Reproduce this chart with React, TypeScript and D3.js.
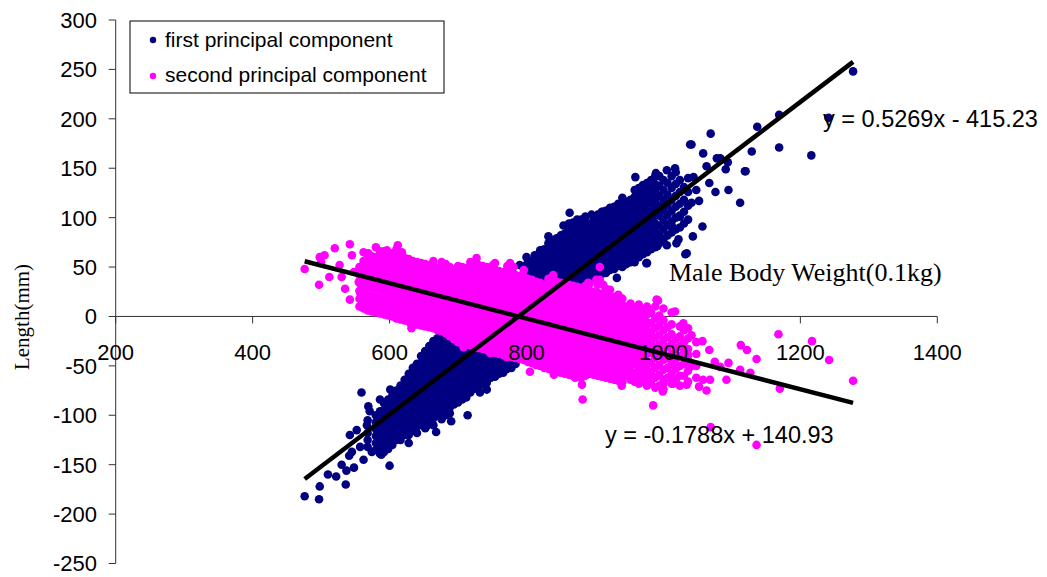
import React from 'react';
import * as d3 from 'd3';

const width = 1047;
const height = 577;

const xTicks = [200, 400, 600, 800, 1000, 1200, 1400];
const yTicks = [300, 250, 200, 150, 100, 50, 0, -50, -100, -150, -200, -250];

// trend lines as printed on the chart
const firstTrend = [0.5269, -415.23];
const secondTrend = [-0.1788, 140.93];

// first principal component: scattered points
const firstOutliers: [number, number][] = [
  [476, -182], [497, -185], [498, -172], [510, -160], [522, -162], [536, -170], [537, -156], [541, -141],
  [545, -137], [552, -115], [542, -120], [557, -132], [562, -145], [574, -137], [588, -140], [600, -151],
  [567, -110], [569, -91], [571, -96], [559, -77], [586, -84], [591, -101], [581, -112], [596, -122],
  [586, -128], [714, -100], [732, -77], [601, -74], [548, -153], [530, -150], [653, -112], [610, -125],
  [628, -128], [668, -117], [690, -106], [742, -74],
  [1169, 204], [1137, 192], [1069, 185], [1041, 174], [1129, 167], [1169, 171], [1216, 163], [1058, 165],
  [1083, 160], [1094, 156], [1091, 149], [1120, 147], [1063, 152], [1005, 148], [1017, 150], [989, 145],
  [959, 141], [1044, 141], [1067, 135], [1095, 128], [1076, 126], [1112, 115], [1048, 128], [1052, 117],
  [1041, 115], [1057, 91], [1043, 81], [1032, 63], [1005, 72], [991, 71], [1022, 78], [976, 54],
  [932, 39], [956, 57], [961, 64], [863, 105], [854, 92], [895, 103], [911, 104], [949, 113],
  [961, 121], [983, 131], [968, 128], [832, 81], [824, 67], [842, 71], [862, 81], [1014, 90],
  [1024, 101], [1007, 92], [1034, 64], [1019, 74], [912, 106], [1277, 248], [1241, 201], [1078, 160],
  [1119, 147], [1039, 174], [975, 54], [958, 55],
  [724, -15], [736, -8], [748, -2], [760, -20], [760, 10], [772, -5], [772, 20], [784, 5],
  [784, 25], [796, -10], [796, 15], [808, 10], [808, -20], [820, 20], [832, 12], [844, 18],
  [856, 20], [868, 22], [880, 26], [740, -25], [752, -28], [764, -30], [788, -30], [800, -35],
  [812, -22], [700, -12], [712, -14], [688, -10], [764, 37], [786, 39], [795, 50], [820, 67],
  [780, 44], [790, 52], [800, 60], [812, 62],
];

// first principal component: dense band, x with the y values stacked at it
const firstBand: [number, number[]][] = [
  [568, [-105, -118, -125, -132]],
  [580, [-100, -107, -114, -121, -128, -135]],
  [586, [-96, -104, -111, -118, -125, -132, -139]],
  [592, [-88, -95, -102, -109, -116, -123, -130, -137]],
  [598, [-84, -92, -99, -106, -113, -120, -127, -134]],
  [604, [-80, -88, -95, -102, -109, -116, -123, -130]],
  [610, [-75, -82, -89, -96, -103, -110, -117, -124]],
  [616, [-70, -77, -84, -91, -98, -105, -112, -119, -125]],
  [622, [-64, -71, -78, -85, -92, -99, -106, -113, -120]],
  [628, [-58, -65, -72, -79, -86, -93, -100, -107, -114, -120]],
  [634, [-52, -59, -66, -73, -80, -87, -94, -101, -108, -115]],
  [640, [-48, -55, -62, -69, -76, -83, -90, -97, -104, -111, -118]],
  [646, [-40, -47, -54, -61, -68, -75, -82, -89, -96, -103, -110]],
  [652, [-35, -42, -50, -57, -64, -71, -78, -85, -92, -99, -106, -113]],
  [658, [-30, -37, -44, -51, -58, -65, -72, -79, -86, -93, -100, -107]],
  [664, [-25, -32, -40, -47, -54, -61, -68, -75, -82, -89, -96, -103, -110]],
  [670, [-22, -29, -37, -44, -51, -58, -65, -72, -79, -86, -93, -100]],
  [676, [-18, -26, -34, -41, -48, -55, -62, -69, -76, -83, -90, -97, -104]],
  [682, [-16, -23, -31, -38, -45, -52, -59, -66, -73, -80, -87, -94, -100]],
  [688, [-20, -28, -36, -43, -50, -57, -64, -71, -78, -85, -92, -98]],
  [694, [-18, -25, -33, -40, -47, -54, -61, -68, -75, -82, -89]],
  [700, [-22, -30, -38, -45, -52, -59, -66, -73, -80, -87]],
  [706, [-20, -27, -35, -42, -49, -56, -63, -70, -77, -84]],
  [712, [-25, -33, -40, -47, -54, -61, -68, -75, -82]],
  [718, [-27, -35, -42, -49, -56, -63, -70, -77]],
  [724, [-30, -38, -45, -52, -59, -66, -73]],
  [730, [-30, -37, -44, -51, -58, -65, -72]],
  [736, [-32, -40, -47, -54, -61, -68]],
  [742, [-34, -41, -48, -55, -62, -67]],
  [748, [-35, -42, -49, -56, -62]],
  [754, [-36, -43, -50, -57, -61]],
  [760, [-38, -45, -52, -58]],
  [766, [-39, -46, -53, -57]],
  [772, [-40, -47, -53]],
  [778, [-41, -48, -52]],
  [784, [-42, -48]],
  [796, [30, 37, 44, 51]],
  [802, [33, 40, 47, 54]],
  [808, [28, 35, 42, 49, 56]],
  [814, [31, 38, 45, 52, 59]],
  [820, [30, 37, 44, 51, 58, 65]],
  [826, [33, 40, 47, 54, 61, 68]],
  [832, [32, 39, 46, 53, 60, 67, 74]],
  [838, [35, 42, 49, 56, 63, 70, 77]],
  [844, [30, 37, 44, 51, 58, 65, 72, 79]],
  [850, [33, 40, 47, 54, 61, 68, 75, 82]],
  [856, [28, 35, 42, 49, 56, 63, 70, 77, 84]],
  [862, [31, 38, 45, 52, 59, 66, 73, 80, 87, 94]],
  [868, [32, 39, 46, 53, 60, 67, 74, 81, 88, 95]],
  [874, [35, 42, 49, 56, 63, 70, 77, 84, 91, 98]],
  [880, [35, 42, 49, 56, 63, 70, 77, 84, 91, 98]],
  [886, [38, 45, 52, 59, 66, 73, 80, 87, 94, 101]],
  [892, [38, 45, 52, 59, 66, 73, 80, 87, 94]],
  [898, [41, 48, 55, 62, 69, 76, 83, 90, 97]],
  [904, [40, 47, 54, 61, 68, 75, 82, 89, 96, 103]],
  [910, [43, 50, 57, 64, 71, 78, 85, 92, 99, 106]],
  [916, [44, 51, 58, 65, 72, 79, 86, 93, 100, 107]],
  [922, [47, 54, 61, 68, 75, 82, 89, 96, 103, 110]],
  [928, [48, 55, 62, 69, 76, 83, 90, 97, 104, 111]],
  [934, [51, 58, 65, 72, 79, 86, 93, 100, 107, 114]],
  [940, [50, 57, 64, 71, 78, 85, 92, 99, 106, 113, 120]],
  [946, [53, 60, 67, 74, 81, 88, 95, 102, 109, 116]],
  [952, [55, 62, 69, 76, 83, 90, 97, 104, 111, 118]],
  [958, [58, 65, 72, 79, 86, 93, 100, 107, 114, 121, 128]],
  [964, [60, 67, 74, 81, 88, 95, 102, 109, 116, 123, 130]],
  [970, [63, 70, 77, 84, 91, 98, 105, 112, 119, 126, 133]],
  [976, [65, 72, 79, 86, 93, 100, 107, 114, 121, 128, 135]],
  [982, [68, 75, 82, 90, 98, 106, 114, 122, 130, 138]],
  [988, [70, 78, 86, 94, 102, 110, 118, 126, 134, 142]],
  [994, [74, 83, 92, 102, 112, 122, 132, 142]],
  [1000, [78, 88, 98, 108, 118, 128, 138]],
  [1006, [82, 93, 103, 113, 123, 135]],
  [1012, [85, 96, 107, 118, 130, 142]],
  [1018, [88, 100, 111, 122, 134, 146]],
  [1024, [90, 102, 114, 126, 138]],
  [1030, [94, 106, 118, 131]],
  [1036, [98, 112, 126, 140]],
];

// second principal component: scattered points
const secondOutliers: [number, number][] = [
  [476, 48], [498, 60], [497, 32], [520, 69], [542, 73], [535, 28], [542, 17], [569, 16],
  [593, 6], [557, 24], [569, 64], [596, 67], [618, 65], [527, 52], [512, 40], [530, 40],
  [548, 45], [545, 62], [555, 35], [562, 65], [632, -9], [659, -10], [674, -9], [708, -31],
  [727, -31], [747, -37], [771, -41], [800, -44], [808, -47], [754, 54], [776, 54], [727, 59],
  [751, 52], [781, 50], [664, 56], [683, 50], [718, 50], [839, 42], [866, 27], [890, 34],
  [902, 37], [907, 50], [907, 37], [912, 32], [922, 27], [934, 22], [990, 17], [992, 16],
  [1017, 5], [1029, -7], [1030, -14], [1041, -19], [1036, -39], [1041, -50], [1057, -25], [1067, -34],
  [1075, -46], [1083, -51], [1095, -47], [1092, -64], [1068, -64], [1058, -64], [1063, -75], [1052, -71],
  [1034, -69], [1014, -68], [1000, -68], [999, -76], [985, -90], [882, -84], [840, -59], [871, -62],
  [881, -69], [939, -70], [958, -65], [1069, -112], [1136, -130], [1113, -29], [1122, -34], [1112, -54],
  [1127, -57], [1136, -43], [1168, -18], [1217, -25], [1242, -44], [1277, -65], [1170, -73], [805, -56],
  [917, -51], [632, -12], [580, 70], [612, 72], [500, 55], [505, 62],
];

// second principal component: dense band
const secondBand: [number, number[]][] = [
  [556, [10, 18, 26, 34, 42, 50]],
  [562, [8, 16, 24, 32, 40, 48, 56]],
  [568, [6, 14, 22, 30, 38, 46, 54, 62]],
  [574, [5, 13, 21, 29, 37, 45, 53, 61]],
  [580, [4, 12, 20, 28, 36, 44, 52, 60]],
  [586, [3, 11, 19, 27, 35, 43, 51, 59, 66]],
  [592, [2, 10, 18, 26, 34, 42, 50, 58, 66]],
  [598, [1, 9, 17, 25, 33, 41, 49, 57, 65]],
  [604, [0, 8, 16, 24, 32, 40, 48, 56, 64]],
  [610, [-2, 5, 13, 21, 29, 37, 45, 53, 61, 68]],
  [616, [-3, 5, 12, 19, 26, 33, 40, 47, 54, 61]],
  [622, [-4, 3, 10, 17, 24, 31, 38, 45, 52, 59]],
  [628, [-5, 2, 9, 16, 23, 30, 37, 44, 51, 58]],
  [634, [-7, 0, 7, 14, 21, 28, 35, 42, 49, 56]],
  [640, [-8, -1, 6, 13, 20, 27, 34, 41, 48, 55]],
  [646, [-9, -2, 5, 12, 19, 26, 33, 40, 47, 54]],
  [652, [-10, -3, 4, 11, 18, 25, 32, 39, 46, 53]],
  [658, [-11, -4, 3, 10, 17, 24, 31, 38, 45, 52]],
  [664, [-12, -5, 2, 9, 16, 23, 30, 37, 44, 51]],
  [670, [-14, -7, 0, 7, 14, 21, 28, 35, 42, 49]],
  [676, [-15, -8, -1, 6, 13, 20, 27, 34, 41, 48, 55]],
  [682, [-17, -10, -3, 4, 11, 18, 25, 32, 39, 46, 53]],
  [688, [-20, -13, -6, 1, 8, 15, 22, 29, 36, 43, 50]],
  [694, [-23, -16, -9, -2, 5, 12, 19, 26, 33, 40, 47]],
  [700, [-26, -19, -12, -5, 2, 9, 16, 23, 30, 37, 44, 51]],
  [706, [-27, -20, -13, -6, 1, 8, 15, 22, 29, 36, 43, 50]],
  [712, [-28, -21, -14, -7, 0, 7, 14, 21, 28, 35, 42, 49]],
  [718, [-29, -22, -15, -8, -1, 6, 13, 20, 27, 34, 41, 48, 55]],
  [724, [-30, -23, -16, -9, -2, 5, 12, 19, 26, 33, 40, 47, 54]],
  [730, [-32, -25, -18, -11, -4, 3, 10, 17, 24, 31, 38, 45, 52]],
  [736, [-33, -26, -19, -12, -5, 2, 9, 16, 23, 30, 37, 44, 51]],
  [742, [-34, -27, -20, -13, -6, 1, 8, 15, 22, 29, 36, 43, 50]],
  [748, [-35, -28, -21, -14, -7, 0, 7, 14, 21, 28, 35, 42, 49]],
  [754, [-37, -30, -23, -16, -9, -2, 5, 12, 19, 26, 33, 40, 47]],
  [760, [-38, -31, -24, -17, -10, -3, 4, 11, 18, 25, 32, 39, 46]],
  [766, [-39, -32, -25, -18, -11, -4, 3, 10, 17, 24, 31, 38, 45]],
  [772, [-40, -33, -26, -19, -12, -5, 2, 9, 16, 23, 30, 37, 44, 51]],
  [778, [-41, -34, -27, -20, -13, -6, 1, 8, 15, 22, 29, 36, 43, 50]],
  [784, [-42, -35, -28, -21, -14, -7, 0, 7, 14, 21, 28, 35, 42]],
  [790, [-43, -36, -29, -22, -15, -8, -1, 6, 13, 20, 27, 34, 41]],
  [796, [-44, -37, -30, -23, -16, -9, -2, 5, 12, 19, 26, 33, 40, 47]],
  [802, [-46, -39, -32, -25, -18, -11, -4, 3, 10, 17, 24, 31, 38]],
  [808, [-47, -40, -33, -26, -19, -12, -5, 2, 9, 16, 23, 30, 37]],
  [814, [-49, -42, -35, -28, -21, -14, -7, 0, 7, 14, 21, 28, 35]],
  [820, [-50, -43, -36, -29, -22, -15, -8, -1, 6, 13, 20, 27, 34]],
  [826, [-52, -45, -38, -31, -24, -17, -10, -3, 4, 11, 18, 25, 32]],
  [832, [-53, -46, -39, -32, -25, -18, -11, -4, 3, 10, 17, 24, 31, 38]],
  [838, [-55, -48, -41, -34, -27, -20, -13, -6, 1, 8, 15, 22, 29, 36]],
  [844, [-56, -49, -42, -35, -28, -21, -14, -7, 0, 7, 14, 21, 28, 35]],
  [850, [-57, -50, -43, -36, -29, -22, -15, -8, -1, 6, 13, 20, 27, 34]],
  [856, [-58, -51, -44, -37, -30, -23, -16, -9, -2, 5, 12, 19, 26, 33]],
  [862, [-59, -52, -45, -38, -31, -24, -17, -10, -3, 4, 11, 18, 25, 32]],
  [868, [-60, -53, -46, -39, -32, -25, -18, -11, -4, 3, 10, 17, 24, 31]],
  [874, [-61, -54, -47, -40, -33, -26, -19, -12, -5, 2, 9, 16, 23, 30]],
  [880, [-62, -55, -48, -41, -34, -27, -20, -13, -6, 1, 8, 15, 22, 29]],
  [886, [-60, -53, -46, -39, -32, -25, -18, -11, -4, 3, 10, 17, 24, 31]],
  [892, [-58, -51, -44, -37, -30, -23, -16, -9, -2, 5, 12, 19, 26, 33]],
  [898, [-59, -52, -45, -38, -31, -24, -17, -10, -3, 4, 11, 18, 25]],
  [904, [-60, -53, -46, -39, -32, -25, -18, -11, -4, 3, 10, 17, 24, 32]],
  [910, [-61, -54, -47, -40, -33, -26, -19, -12, -5, 2, 9, 16, 23]],
  [916, [-62, -55, -48, -41, -34, -27, -20, -13, -6, 1, 8, 15, 22, 28]],
  [922, [-63, -56, -49, -42, -35, -28, -21, -14, -7, 0, 7, 14, 21]],
  [928, [-64, -57, -50, -43, -36, -29, -22, -15, -8, -1, 6, 13, 20]],
  [934, [-65, -58, -51, -44, -37, -30, -23, -16, -9, -2, 5, 12, 19]],
  [940, [-66, -59, -52, -45, -38, -31, -24, -17, -10, -3, 4, 11, 18]],
  [946, [-60, -53, -46, -39, -32, -25, -18, -11, -4, 3, 10]],
  [952, [-64, -57, -50, -43, -36, -29, -22, -15, -8, -1, 6, 13]],
  [958, [-66, -57, -48, -40, -32, -24, -16, -8, 0, 8]],
  [964, [-68, -60, -52, -44, -36, -28, -20, -12, -4, 4, 12]],
  [970, [-66, -58, -49, -41, -33, -25, -17, -9, -1, 7]],
  [976, [-70, -62, -54, -46, -38, -30, -22, -14, -6, 2, 10]],
  [982, [-68, -57, -47, -37, -27, -17, -7, 4]],
  [988, [-72, -62, -52, -42, -32, -22, -12, -2, 10]],
  [994, [-70, -59, -49, -39, -29, -19, -9, 1]],
  [1000, [-74, -64, -54, -44, -34, -24, -14, -4, 8]],
  [1006, [-62, -52, -42, -31, -21, -11]],
  [1012, [-68, -58, -48, -38, -28, -18, -8, 4]],
  [1018, [-64, -53, -43, -33, -23]],
  [1024, [-70, -60, -50, -40, -30, -20, -10]],
  [1030, [-60, -48, -36, -26]],
  [1036, [-66, -55, -44, -33, -22, -12]],
  [1048, [-62, -50, -38, -26]],
];

const spread = (band: [number, number[]][]) =>
  band.flatMap(([x, ys]) => ys.map((y) => [x, y] as [number, number]));

const firstPoints = [...spread(firstBand), ...firstOutliers];
const secondPoints = [...spread(secondBand), ...secondOutliers];

const NAVY = '#000080';
const MAGENTA = '#FF00FF';
const ARIAL = '"Liberation Sans", Arial, sans-serif';
const TIMES = '"Liberation Serif", "Times New Roman", serif';

export default function App() {
  const x = d3.scaleLinear().domain([200, 1400]).range([115.7, 937.3]);
  const y = d3.scaleLinear().domain([-250, 300]).range([563.5, 20]);

  const xExtent = d3.extent([...firstPoints, ...secondPoints], (d) => d[0]) as [number, number];
  const trendPath = (coef: number[]) =>
    d3.line<number>()
      .x((v) => x(v))
      .y((v) => y(coef[0] * v + coef[1]))(xExtent) as string;

  return (
    <svg
      width={width}
      height={height}
      style={{ position: 'absolute', left: 0, top: 0, background: '#fff' }}
    >
      {/* axes */}
      <line x1={x(200)} x2={x(200)} y1={y(300)} y2={y(-250)} stroke="#333" strokeWidth={1} />
      <line x1={x(200)} x2={x(1400)} y1={y(0)} y2={y(0)} stroke="#333" strokeWidth={1} />
      {yTicks.map((t) => (
        <line key={'yt' + t} x1={x(200) - 7} x2={x(200)} y1={y(t)} y2={y(t)} stroke="#333" />
      ))}
      {xTicks.map((t) => (
        <line key={'xt' + t} x1={x(t)} x2={x(t)} y1={y(0)} y2={y(0) + 7} stroke="#333" />
      ))}

      {/* points */}
      {firstPoints.map((d, i) => (
        <circle key={'a' + i} cx={x(d[0])} cy={y(d[1])} r={4.3} fill={NAVY} />
      ))}
      {secondPoints.map((d, i) => (
        <circle key={'b' + i} cx={x(d[0])} cy={y(d[1])} r={4.3} fill={MAGENTA} />
      ))}

      {/* trend lines */}
      <path d={trendPath(firstTrend)} stroke="#000" strokeWidth={4.5} fill="none" />
      <path d={trendPath(secondTrend)} stroke="#000" strokeWidth={4.5} fill="none" />

      {/* tick labels */}
      {yTicks.map((t) => (
        <text key={'yl' + t} x={97} y={y(t)} dy="0.36em" textAnchor="end"
          fontFamily={ARIAL} fontSize={22} fill="#000">
          {t}
        </text>
      ))}
      {xTicks.map((t) => (
        <text key={'xl' + t} x={x(t)} y={360} textAnchor="middle"
          fontFamily={ARIAL} fontSize={22} fill="#000">
          {t}
        </text>
      ))}

      {/* titles and equations */}
      <text transform="translate(29,317) rotate(-90)" textAnchor="middle"
        fontFamily={TIMES} fontSize={21} fill="#000">
        Length(mm)
      </text>
      <text x={669} y={281} fontFamily={TIMES} fontSize={26} fill="#000">
        Male Body Weight(0.1kg)
      </text>
      <text x={823} y={127} fontFamily={ARIAL} fontSize={23.5} fill="#000">
        y = 0.5269x - 415.23
      </text>
      <text x={605} y={443} fontFamily={ARIAL} fontSize={23.5} fill="#000">
        y = -0.1788x + 140.93
      </text>

      {/* legend */}
      <rect x={130} y={21} width={314} height={72} fill="#fff" stroke="#000" strokeWidth={1} />
      <circle cx={153} cy={40} r={3.2} fill={NAVY} />
      <circle cx={153} cy={76} r={3.2} fill={MAGENTA} />
      <text x={165} y={47} fontFamily={ARIAL} fontSize={21} fill="#000">first principal component</text>
      <text x={165} y={82} fontFamily={ARIAL} fontSize={21} fill="#000">second principal component</text>
    </svg>
  );
}
